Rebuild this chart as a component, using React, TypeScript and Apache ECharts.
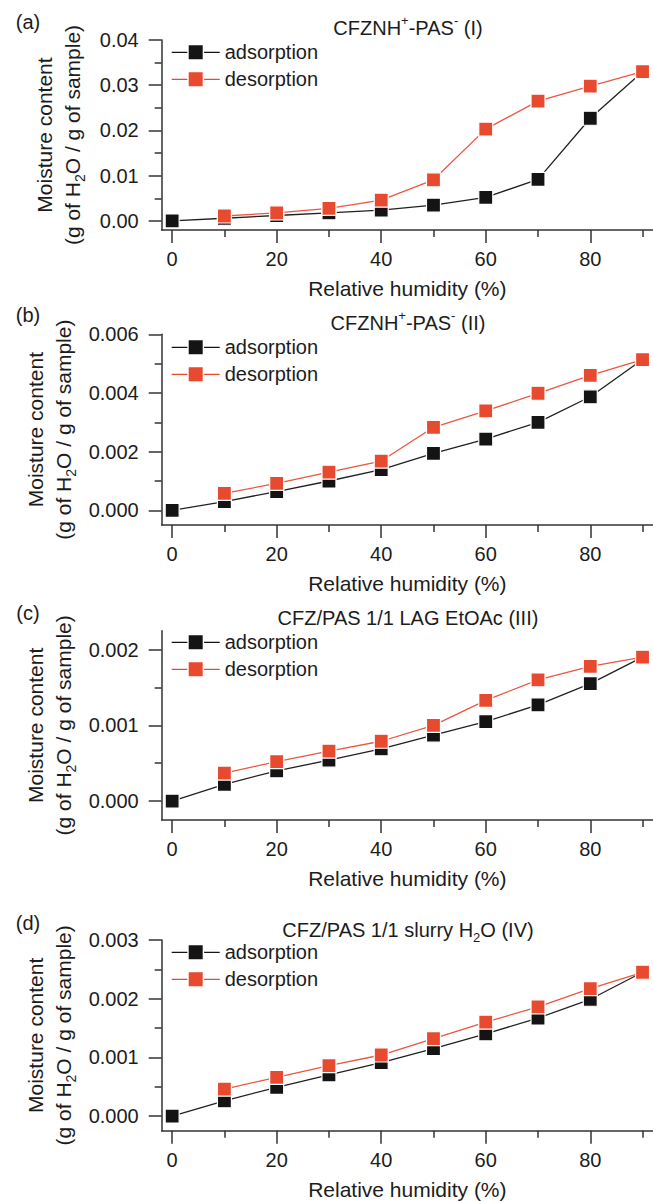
import React, { useEffect, useRef } from 'react';
import * as echarts from 'echarts';

// Relative humidity steps (%)
const humidity = [0, 10, 20, 30, 40, 50, 60, 70, 80, 90];
const humidityDesorption = [10, 20, 30, 40, 50, 60, 70, 80, 90];

// Moisture content, g of H2O / g of sample
const adsorptionI = [0, 0.0006, 0.0012, 0.0018, 0.0024, 0.0035, 0.0052, 0.0092, 0.0227, 0.033];
const desorptionI = [0.0011, 0.0018, 0.0028, 0.0046, 0.0091, 0.0203, 0.0265, 0.0298, 0.033];

const adsorptionII = [0, 0.0003, 0.00064, 0.001, 0.00139, 0.00194, 0.00243, 0.003, 0.00387, 0.00514];
const desorptionII = [0.00058, 0.00092, 0.0013, 0.00168, 0.00283, 0.00339, 0.00399, 0.0046, 0.00514];

const adsorptionIII = [0, 0.00022, 0.0004, 0.00054, 0.00069, 0.00087, 0.00105, 0.00127, 0.00155, 0.0019];
const desorptionIII = [0.00037, 0.00052, 0.00066, 0.00079, 0.001, 0.00133, 0.0016, 0.00178, 0.0019];

const adsorptionIV = [0, 0.00026, 0.00049, 0.0007, 0.00091, 0.00115, 0.0014, 0.00167, 0.00199, 0.00245];
const desorptionIV = [0.00046, 0.00066, 0.00086, 0.00104, 0.00132, 0.0016, 0.00186, 0.00217, 0.00245];

const adsorptionSets = [adsorptionI, adsorptionII, adsorptionIII, adsorptionIV];
const desorptionSets = [desorptionI, desorptionII, desorptionIII, desorptionIV];

const seriesNames = ['adsorption', 'desorption'];
const panelTags = ['(a)', '(b)', '(c)', '(d)'];
const panelTitles = [
  'CFZNH{sup|+}-PAS{sup|-} (I)',
  'CFZNH{sup|+}-PAS{sup|-} (II)',
  'CFZ/PAS 1/1 LAG EtOAc (III)',
  'CFZ/PAS 1/1 slurry H{sub|2}O (IV)',
];

const xName = 'Relative humidity (%)';
const yName = 'Moisture content\n(g of H{sub|2}O / g of sample)';

const xTicksMajor = [0, 20, 40, 60, 80];
const xTicksMinor = [10, 30, 50, 70, 90];
const xRange = [-2, 92];

const yTicksMajor = [
  [0, 0.01, 0.02, 0.03, 0.04],
  [0, 0.002, 0.004, 0.006],
  [0, 0.001, 0.002],
  [0, 0.001, 0.002, 0.003],
];
const yTicksMinor = [
  [0.005, 0.015, 0.025, 0.035],
  [0.001, 0.003, 0.005],
  [0.0005, 0.0015],
  [0.0005, 0.0015, 0.0025],
];
const yDecimals = [2, 3, 3, 3];
const yRanges = [
  [-0.002, 0.04],
  [-0.0005, 0.006],
  [-0.00025, 0.00225],
  [-0.00025, 0.003],
];

// Layout
const gridTops = [40, 334.3, 630.7, 940];
const gridHeights = [190, 190.7, 189.3, 190.7];
const gridLeft = 161.7;
const titleYs = [28, 323, 618, 930];
const tagYs = [22, 315, 613, 923];
const legendTops = [42.3, 337.3, 632.3, 942.3];

const FONT = 'Liberation Sans, Arial, Helvetica, sans-serif';
const INK = '#1c1c1c';
const AXIS = '#333333';
const BLACK = '#141414';
const RED = '#e84a30';

// Legend key: a thin line broken by a square marker, in a 48 x 14 box
const LEGEND_ICON =
  'path://M0,6.35 L15.6,6.35 L15.6,7.65 L0,7.65 Z M17,0 L31,0 L31,14 L17,14 Z M32.4,6.35 L48,6.35 L48,7.65 L32.4,7.65 Z';

const axisRich = {
  sub: { fontSize: 14, lineHeight: 15, verticalAlign: 'bottom', fontFamily: FONT, color: INK },
  sup: { fontSize: 14, lineHeight: 15, verticalAlign: 'top', fontFamily: FONT, color: INK },
};
const graphicRich = {
  sub: { fontSize: 13, lineHeight: 15, verticalAlign: 'bottom', fontFamily: FONT, fill: INK },
  sup: { fontSize: 13, lineHeight: 15, verticalAlign: 'top', fontFamily: FONT, fill: INK },
};

function buildOption() {
  const grid: any[] = [];
  const xAxis: any[] = [];
  const yAxis: any[] = [];
  const series: any[] = [];
  const legend: any[] = [];
  const graphic: any[] = [];

  for (let i = 0; i < 4; i++) {
    grid.push({ left: gridLeft, right: 0, top: gridTops[i], height: gridHeights[i], containLabel: false });

    const lineStyle = { color: AXIS, width: 1.5 };

    xAxis.push({
      type: 'value',
      gridIndex: i,
      position: 'bottom',
      min: xRange[0],
      max: xRange[1],
      axisLine: { show: true, onZero: false, lineStyle },
      axisTick: { show: true, customValues: xTicksMajor, length: 13, lineStyle },
      axisLabel: { show: true, customValues: xTicksMajor, margin: 19, fontSize: 20, color: INK, fontFamily: FONT },
      splitLine: { show: false },
      name: xName,
      nameLocation: 'middle',
      nameGap: 48,
      nameTextStyle: { fontSize: 21, color: INK, fontFamily: FONT },
    });
    xAxis.push({
      type: 'value',
      gridIndex: i,
      position: 'bottom',
      min: xRange[0],
      max: xRange[1],
      axisLine: { show: false, onZero: false },
      axisTick: { show: true, customValues: xTicksMinor, length: 7, lineStyle },
      axisLabel: { show: false },
      splitLine: { show: false },
    });

    const dec = yDecimals[i];
    yAxis.push({
      type: 'value',
      gridIndex: i,
      position: 'left',
      min: yRanges[i][0],
      max: yRanges[i][1],
      axisLine: { show: true, onZero: false, lineStyle },
      axisTick: { show: true, customValues: yTicksMajor[i], length: 13, lineStyle },
      axisLabel: {
        show: true,
        customValues: yTicksMajor[i],
        margin: 23,
        fontSize: 20,
        color: INK,
        fontFamily: FONT,
        formatter: (v: number) => v.toFixed(dec),
      },
      splitLine: { show: false },
      name: yName,
      nameLocation: 'middle',
      nameGap: 75,
      nameTextStyle: { fontSize: 21, lineHeight: 28, color: INK, fontFamily: FONT, rich: axisRich },
    });
    yAxis.push({
      type: 'value',
      gridIndex: i,
      position: 'left',
      min: yRanges[i][0],
      max: yRanges[i][1],
      axisLine: { show: false, onZero: false },
      axisTick: { show: true, customValues: yTicksMinor[i], length: 7, lineStyle },
      axisLabel: { show: false },
      splitLine: { show: false },
    });

    series.push({
      name: seriesNames[0],
      type: 'line',
      xAxisIndex: 2 * i,
      yAxisIndex: 2 * i,
      data: humidity.map((h, k) => [h, adsorptionSets[i][k]]),
      symbol: 'rect',
      symbolSize: 14,
      showAllSymbol: true,
      lineStyle: { color: '#202020', width: 1.3 },
      itemStyle: { color: BLACK, borderColor: '#ffffff', borderWidth: 1.2 },
      z: 2,
      clip: false,
    });
    series.push({
      name: seriesNames[1],
      type: 'line',
      xAxisIndex: 2 * i,
      yAxisIndex: 2 * i,
      data: humidityDesorption.map((h, k) => [h, desorptionSets[i][k]]),
      symbol: 'rect',
      symbolSize: 14,
      showAllSymbol: true,
      lineStyle: { color: '#ea5640', width: 1.3 },
      itemStyle: { color: RED, borderColor: '#ffffff', borderWidth: 1.2 },
      z: 3,
      clip: false,
    });

    legend.push({
      data: seriesNames.map((name) => ({ name, icon: LEGEND_ICON })),
      orient: 'vertical',
      left: 171.7,
      top: legendTops[i],
      padding: 0,
      itemWidth: 48,
      itemHeight: 14,
      itemGap: 7,
      selectedMode: false,
      itemStyle: { borderWidth: 0 },
      textStyle: { fontSize: 20, color: INK, fontFamily: FONT },
    });

    graphic.push({
      type: 'text',
      x: 408,
      y: titleYs[i],
      style: {
        text: panelTitles[i],
        fontSize: 20,
        fontFamily: FONT,
        lineHeight: 28,
        fill: INK,
        align: 'center',
        verticalAlign: 'middle',
        rich: graphicRich,
      },
    });
    graphic.push({
      type: 'text',
      x: 28,
      y: tagYs[i],
      style: {
        text: panelTags[i],
        fontSize: 20,
        fontFamily: FONT,
        fill: INK,
        align: 'center',
        verticalAlign: 'middle',
      },
    });
  }

  return {
    animation: false,
    backgroundColor: '#ffffff',
    grid,
    xAxis,
    yAxis,
    series,
    legend,
    graphic,
  };
}

export default function App() {
  const ref = useRef<HTMLDivElement>(null);

  useEffect(() => {
    if (!ref.current) return;
    const chart = echarts.init(ref.current, undefined, { renderer: 'svg' });
    chart.setOption(buildOption() as any);
    return () => {
      chart.dispose();
    };
  }, []);

  return (
    <div
      ref={ref}
      style={{ position: 'absolute', left: 0, top: 0, width: 653, height: 1201, background: '#fff' }}
    />
  );
}
